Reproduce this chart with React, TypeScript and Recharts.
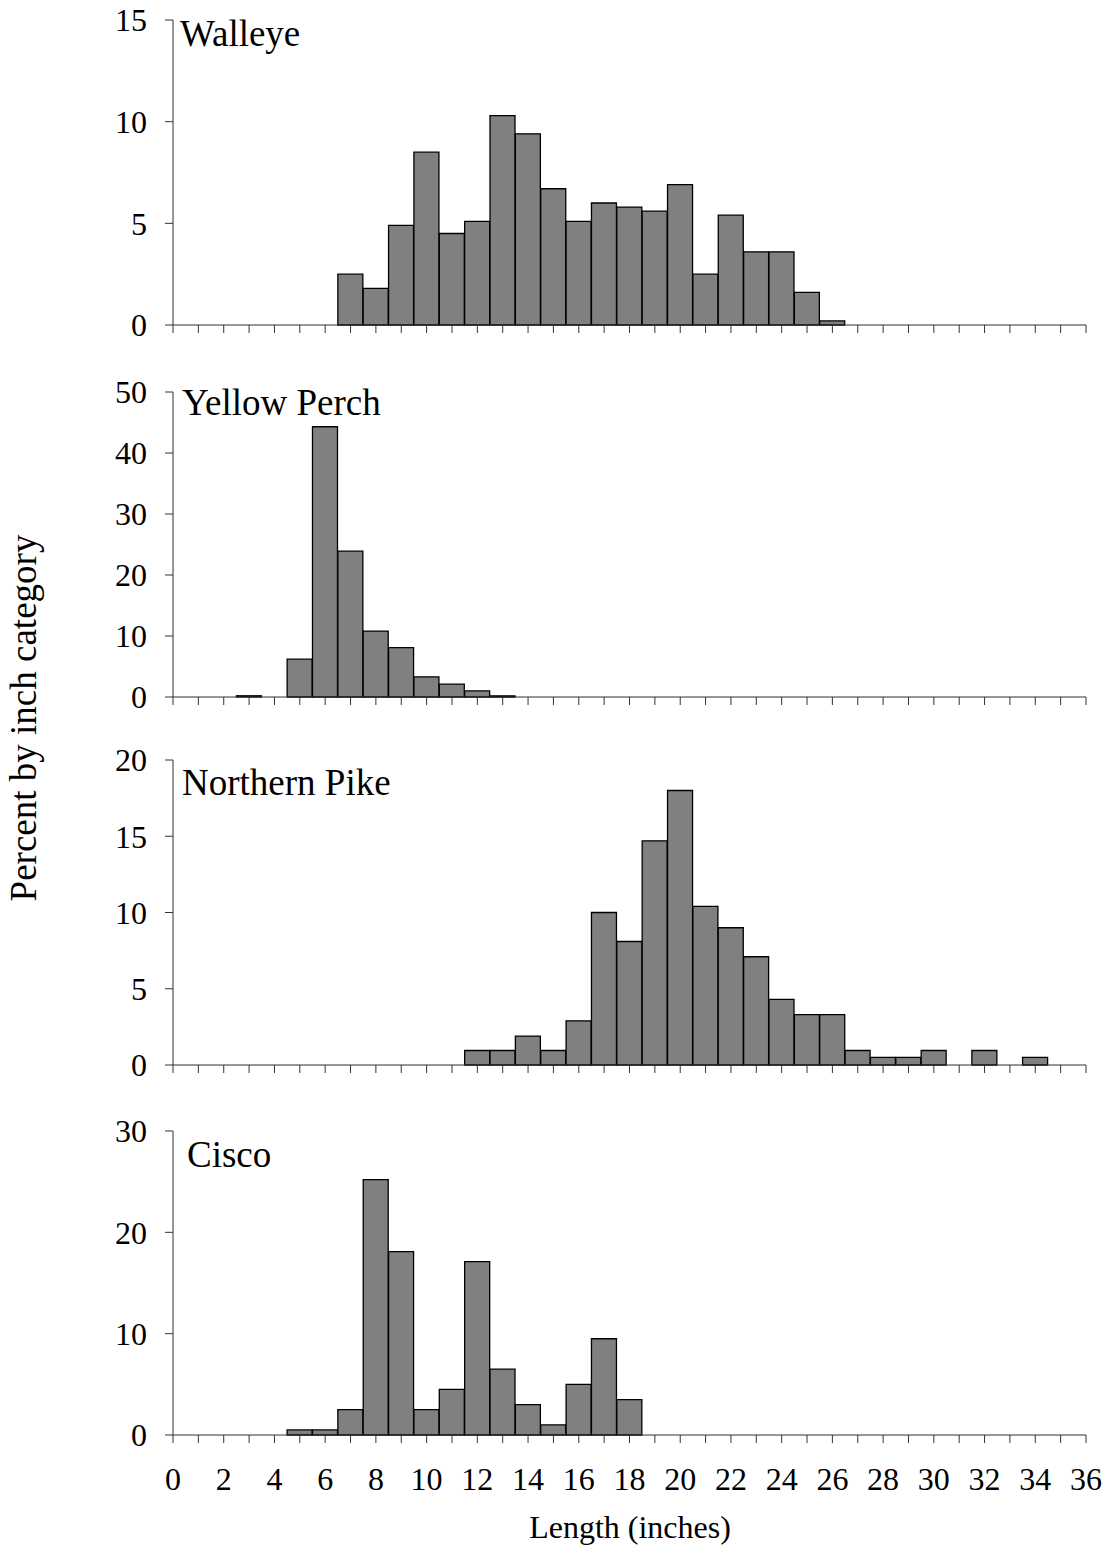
import { BarChart, Bar, XAxis, YAxis } from "recharts";

// ── Data (percent by inch category) ───────────────────────────────────────────

const LENGTHS = [
  1, 2, 3, 4, 5, 6, 7, 8, 9, 10, 11, 12, 13, 14, 15, 16, 17, 18,
  19, 20, 21, 22, 23, 24, 25, 26, 27, 28, 29, 30, 31, 32, 33, 34, 35,
];

const WALLEYE = [
  0, 0, 0, 0, 0, 0, 2.5, 1.8, 4.9, 8.5, 4.5, 5.1, 10.3, 9.4, 6.7, 5.1, 6.0, 5.8,
  5.6, 6.9, 2.5, 5.4, 3.6, 3.6, 1.6, 0.2, 0, 0, 0, 0, 0, 0, 0, 0, 0,
];

const YELLOW_PERCH = [
  0, 0, 0.2, 0, 6.2, 44.3, 23.9, 10.8, 8.1, 3.3, 2.1, 1.0, 0.2, 0, 0, 0, 0, 0,
  0, 0, 0, 0, 0, 0, 0, 0, 0, 0, 0, 0, 0, 0, 0, 0, 0,
];

const NORTHERN_PIKE = [
  0, 0, 0, 0, 0, 0, 0, 0, 0, 0, 0, 0.95, 0.95, 1.9, 0.95, 2.9, 10.0, 8.1,
  14.7, 18.0, 10.4, 9.0, 7.1, 4.3, 3.3, 3.3, 0.95, 0.5, 0.5, 0.95, 0, 0.95, 0, 0.5, 0,
];

const CISCO = [
  0, 0, 0, 0, 0.5, 0.5, 2.5, 25.2, 18.1, 2.5, 4.5, 17.1, 6.5, 3.0, 1.0, 5.0, 9.5, 3.5,
  0, 0, 0, 0, 0, 0, 0, 0, 0, 0, 0, 0, 0, 0, 0, 0, 0,
];

const X_TICKS = [
  0, 1, 2, 3, 4, 5, 6, 7, 8, 9, 10, 11, 12, 13, 14, 15, 16, 17, 18,
  19, 20, 21, 22, 23, 24, 25, 26, 27, 28, 29, 30, 31, 32, 33, 34, 35, 36,
];

const WALLEYE_TICKS = [0, 5, 10, 15];
const PERCH_TICKS = [0, 10, 20, 30, 40, 50];
const PIKE_TICKS = [0, 5, 10, 15, 20];
const CISCO_TICKS = [0, 10, 20, 30];

// ── Layout ────────────────────────────────────────────────────────────────────

const FONT = "'Liberation Serif', 'Times New Roman', serif";
const AXIS = "#333";

const PANELS = [
  { title: "Walleye", values: WALLEYE, ticks: WALLEYE_TICKS, top: 20, h: 305, tx: 180, ty: 46 },
  { title: "Yellow Perch", values: YELLOW_PERCH, ticks: PERCH_TICKS, top: 392, h: 305, tx: 182, ty: 415 },
  { title: "Northern Pike", values: NORTHERN_PIKE, ticks: PIKE_TICKS, top: 760, h: 305, tx: 182, ty: 795 },
  { title: "Cisco", values: CISCO, ticks: CISCO_TICKS, top: 1131, h: 304, tx: 187, ty: 1167 },
];

function Panel({
  values,
  ticks,
  top,
  h,
  last,
}: {
  values: number[];
  ticks: number[];
  top: number;
  h: number;
  last: boolean;
}) {
  const data = LENGTHS.map((x, i) => ({ x, v: values[i] }));
  // room below the plot for tick marks (and the labels on the last panel)
  const xAxisH = last ? 70 : 30;
  return (
    <div style={{ position: "absolute", left: 0, top: top - 20 }}>
      <BarChart
        width={1110}
        height={20 + h + xAxisH}
        data={data}
        margin={{ top: 20, right: 24, bottom: 0, left: 93 }}
        barCategoryGap={0}
        barGap={0}
      >
        <XAxis
          dataKey="x"
          type="number"
          domain={[0, 36]}
          ticks={X_TICKS}
          interval={0}
          height={xAxisH}
          tickSize={8}
          tickMargin={24}
          stroke={AXIS}
          tickLine={{ stroke: AXIS }}
          tick={{ fontSize: 32, fill: "#000", fontFamily: FONT }}
          tickFormatter={(v: number) => (last && v % 2 === 0 ? String(v) : "")}
        />
        <YAxis
          type="number"
          domain={[ticks[0], ticks[ticks.length - 1]]}
          ticks={ticks}
          interval={0}
          width={80}
          tickSize={8}
          tickMargin={18}
          stroke={AXIS}
          tickLine={{ stroke: AXIS }}
          tick={{ fontSize: 32, fill: "#000", fontFamily: FONT }}
        />
        <Bar dataKey="v" fill="#808080" stroke="#000" strokeWidth={1.3} isAnimationActive={false} />
      </BarChart>
    </div>
  );
}

export default function App() {
  return (
    <div
      style={{
        position: "absolute",
        left: 0,
        top: 0,
        width: 1110,
        height: 1555,
        background: "#fff",
        fontFamily: FONT,
      }}
    >
      {PANELS.map((p, i) => (
        <Panel key={p.title} values={p.values} ticks={p.ticks} top={p.top} h={p.h} last={i === PANELS.length - 1} />
      ))}
      <svg
        width={1110}
        height={1555}
        style={{ position: "absolute", left: 0, top: 0, pointerEvents: "none" }}
      >
        {PANELS.map((p) => (
          <text key={p.title} x={p.tx} y={p.ty} fontSize={37} fontFamily={FONT} fill="#000">
            {p.title}
          </text>
        ))}
        <text
          x={36}
          y={718}
          transform="rotate(-90 36 718)"
          textAnchor="middle"
          fontSize={37}
          fontFamily={FONT}
          fill="#000"
        >
          Percent by inch category
        </text>
        <text x={630} y={1538} textAnchor="middle" fontSize={32} fontFamily={FONT} fill="#000">
          Length (inches)
        </text>
      </svg>
    </div>
  );
}
